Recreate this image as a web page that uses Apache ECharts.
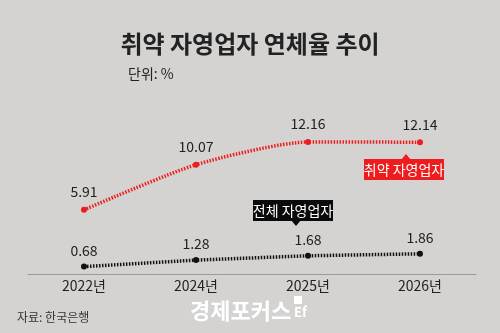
<!DOCTYPE html>
<html><head><meta charset="utf-8">
<script src="https://cdn.jsdelivr.net/npm/echarts@6/dist/echarts.min.js"></script>
<style>html,body{margin:0;padding:0;background:#d4d3d1;}#c{width:500px;height:333px;}</style>
</head><body><div id="c"></div>
<script>
const categories = ['2022년', '2024년', '2025년', '2026년'];
const vulnerable = [5.91, 10.07, 12.16, 12.14];
const overall = [0.68, 1.28, 1.68, 1.86];
const F = '"Noto Sans CJK KR", "Noto Sans", sans-serif';
const chart = echarts.init(document.getElementById('c'), null, {renderer: 'canvas'});
chart.setOption({
  backgroundColor: '#d4d3d1',
  animation: false,
  title: [
    {text: '취약 자영업자 연체율 추이', left: 'center', top: 27, textStyle: {fontFamily: F, fontSize: 24, fontWeight: 'bold', color: '#222'}},
    {text: '단위: %', left: 123, top: 62, textStyle: {fontFamily: F, fontSize: 14, fontWeight: 'normal', color: '#222'}},
    {text: '자료: 한국은행', left: 12, top: 306, textStyle: {fontFamily: F, fontSize: 12, fontWeight: 'normal', color: '#333'}}
  ],
  grid: {left: 28, right: 24, top: 122, bottom: 59},
  xAxis: {
    type: 'category', data: categories, boundaryGap: true,
    axisLine: {lineStyle: {color: '#9a9a9a', width: 1}},
    axisTick: {show: false},
    axisLabel: {fontFamily: F, fontSize: 14, color: '#222', margin: 5}
  },
  yAxis: {type: 'value', min: 0, max: 14, show: false, splitLine: {show: false}},
  series: [
    {
      type: 'line', data: vulnerable, smooth: 0.22,
      symbol: 'circle', symbolSize: 6, itemStyle: {color: '#ee1c1c'},
      lineStyle: {color: '#ee1c1c', width: 3.5, type: [1.5, 1.5]},
      label: {show: true, position: 'top', distance: 8, fontFamily: F, fontSize: 14, color: '#222'}
    },
    {
      type: 'line', data: overall, smooth: false,
      symbol: 'circle', symbolSize: 6, itemStyle: {color: '#111'},
      lineStyle: {color: '#111', width: 3.5, type: [1.5, 1.5]},
      label: {show: true, position: 'top', distance: 6, fontFamily: F, fontSize: 14, color: '#222'}
    }
  ],
  graphic: [
    {type: 'polygon', shape: {points: [[401, 160], [406, 154], [411, 160]]}, style: {fill: '#ee1c1c'}},
    {type: 'rect', shape: {x: 364, y: 159, width: 80, height: 21}, style: {fill: '#ee1c1c'}},
    {type: 'text', x: 404, y: 169.5, style: {text: '취약 자영업자', fill: '#fff', font: '14px ' + F, align: 'center', verticalAlign: 'middle'}},
    {type: 'rect', shape: {x: 253, y: 200, width: 80, height: 21}, style: {fill: '#0a0a0a'}},
    {type: 'polygon', shape: {points: [[291, 220], [296, 226], [301, 220]]}, style: {fill: '#0a0a0a'}},
    {type: 'text', x: 293, y: 210.5, style: {text: '전체 자영업자', fill: '#fff', font: '14px ' + F, align: 'center', verticalAlign: 'middle'}},
    {type: 'text', x: 190, y: 300, style: {text: '경제포커스', fill: '#fff', font: 'bold 22px ' + F}},
    {type: 'rect', shape: {x: 294, y: 296, width: 8, height: 8}, style: {fill: '#fff'}},
    {type: 'text', x: 294, y: 306, style: {text: 'Ef', fill: '#fff', font: 'bold 13px ' + F}}
  ]
});
</script></body></html>
